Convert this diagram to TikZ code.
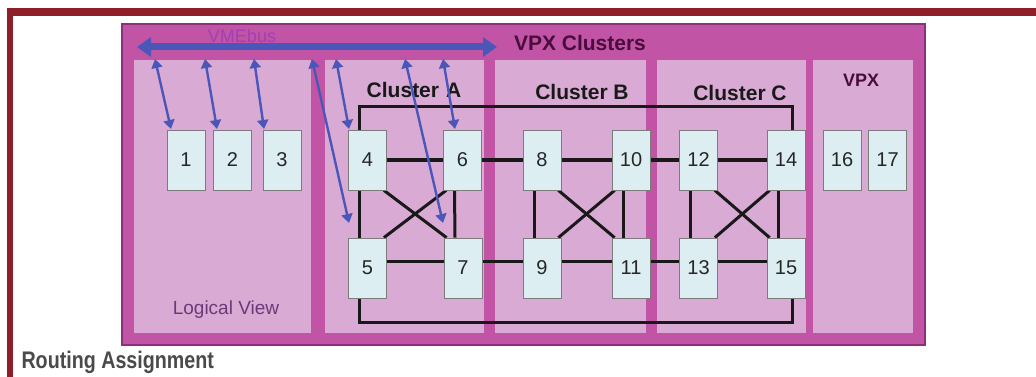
\documentclass[tikz,border=0pt]{standalone}
\usepackage{fontspec}
\setmainfont{Liberation Sans}
\newfontfamily\narrowsans[FakeStretch=0.82]{Liberation Sans}
\usetikzlibrary{arrows.meta}

\pgfdeclarelayer{base}
\pgfdeclarelayer{wires}
\pgfsetlayers{base,wires,main}

\definecolor{framered}{HTML}{8E1F28}
\definecolor{outermag}{HTML}{C254A6}
\definecolor{outeredge}{HTML}{8C2F7E}
\definecolor{panelpink}{HTML}{D9ABD4}
\definecolor{boxfill}{HTML}{DDEEF2}
\definecolor{boxedge}{HTML}{7C7C7C}
\definecolor{busblue}{HTML}{4B57B8}
\definecolor{labeldark}{HTML}{4A0C3C}
\definecolor{busname}{HTML}{A23FB4}
\definecolor{viewtext}{HTML}{6A3A78}
\definecolor{captiongray}{HTML}{4A4A4A}

\tikzset{
  panel/.style={fill=panelpink},
  card/.style={draw=boxedge, line width=0.8pt, fill=boxfill,
    minimum width=38pt, minimum height=60pt, inner sep=0pt,
    font=\fontsize{20}{22}\selectfont, text=black!85},
  link/.style={line width=3pt, black!90},
  bus/.style={line width=7pt, busblue, {Triangle[length=14pt,width=19pt]}-{Triangle[length=14pt,width=19pt]}},
  tap/.style={line width=2.4pt, busblue, {Triangle[length=9pt,width=11pt]}-{Triangle[length=9pt,width=11pt]}},
  clusterlabel/.style={font=\fontsize{21}{24}\selectfont\bfseries, text=black!90},
}

\begin{document}
\begin{tikzpicture}[x=1pt,y=-1pt]
\useasboundingbox (0,0) rectangle (1036,377);

\begin{pgfonlayer}{base}
\fill[white] (0,0) rectangle (1036,377);
% page frame
\fill[framered] (7,8) rectangle (1036,16);
\fill[framered] (7,8) rectangle (13,377);
% enclosure and its bays
\fill[outermag, draw=outeredge, line width=1.5pt] (122,24) rectangle (925,345);
\fill[panel] (134,60) rectangle (311,333);
\fill[panel] (325,60) rectangle (484,333);
\fill[panel] (495,60) rectangle (646,333);
\fill[panel] (657,60) rectangle (806,333);
\fill[panel] (813,60) rectangle (913,333);
\end{pgfonlayer}

% headings
\node[font=\fontsize{21}{24}\selectfont\bfseries, text=labeldark] (vpxc) at (580,43) {VPX Clusters};
\node[clusterlabel] (ca) at (414,90) {Cluster\,\,A};
\node[clusterlabel] (cb) at (582,92) {Cluster B};
\node[clusterlabel] (cc) at (740,93) {Cluster C};
\node[font=\fontsize{18}{20}\selectfont\bfseries, text=labeldark] (vpx) at (861,80) {VPX};
\node[font=\fontsize{19}{22}\selectfont, text=viewtext] (lv) at (226,310) {Logical View};
\node[font=\fontsize{18}{20}\selectfont, text=busname] (vme) at (242,36) {VMEbus};
\node[anchor=west, font=\narrowsans\fontsize{24}{26}\selectfont\bfseries, text=captiongray] (cap) at (18,362) {Routing Assignment};

% boards
\node[card] (n1) at (186,160) {1};
\node[card] (n2) at (232.5,160) {2};
\node[card] (n3) at (282,160) {3};
\node[card] (n4) at (367.5,160) {4};
\node[card] (n6) at (462.5,160) {6};
\node[card] (n8) at (542,160) {8};
\node[card] (n10) at (631,160) {10};
\node[card] (n12) at (698.5,160) {12};
\node[card] (n14) at (786,160) {14};
\node[card] (n16) at (842,160) {16};
\node[card] (n17) at (887.5,160) {17};
\node[card] (n5) at (367.5,268) {5};
\node[card] (n7) at (463,268) {7};
\node[card] (n9) at (542,268) {9};
\node[card] (n11) at (631,268) {11};
\node[card] (n13) at (698.5,268) {13};
\node[card] (n15) at (786,268) {15};

% fabric links, kept under the boards
\begin{pgfonlayer}{wires}
\foreach \a/\b in {n4/n6, n6/n8, n8/n10, n10/n12, n12/n14}
  \draw[link] (\a.east) -- (\b.west);
\foreach \a/\b in {n5/n7, n7/n9, n9/n11, n11/n13, n13/n15}
  \draw[link] ([yshift=7pt]\a.east) -- ([yshift=7pt]\b.west);
\foreach \a/\b in {n4/n5, n6/n7, n8/n9, n10/n11, n12/n13, n14/n15}
  \draw[link] ([xshift=-8pt]\a.south) -- ([xshift=-8pt]\b.north);
\foreach \a/\b/\c/\d in {n4/n7/n6/n5, n8/n11/n10/n9, n12/n15/n14/n13} {
  \draw[link] ([xshift=-3pt]\a.south east) -- ([xshift=3pt]\b.north west);
  \draw[link] ([xshift=3pt]\c.south west) -- ([xshift=-3pt]\d.north east);
}
\draw[link] ([xshift=-8pt]n4.north) |- (792,107) -- ([xshift=6pt]n14.north);
\draw[link] ([xshift=-8pt]n5.south) |- (792,322) -- ([xshift=6pt]n15.south);
\end{pgfonlayer}

% VMEbus and its taps
\coordinate (busL) at (137,47);
\coordinate (busR) at (497,47);
\draw[bus] (busL) -- (busR);
\coordinate (t1) at (155,59);  \coordinate (e1) at (171,129);
\coordinate (t2) at (205,59);  \coordinate (e2) at (217,129);
\coordinate (t3) at (254,59);  \coordinate (e3) at (264,129);
\coordinate (t4) at (312,59);  \coordinate (e4) at (349,223);
\coordinate (t5) at (336,59);  \coordinate (e5) at (349,129);
\coordinate (t6) at (405,59);  \coordinate (e6) at (443,223);
\coordinate (t7) at (443,59);  \coordinate (e7) at (455,129);
\foreach \i in {1,...,7}
  \draw[tap] (t\i) -- (e\i);
\end{tikzpicture}
\end{document}
